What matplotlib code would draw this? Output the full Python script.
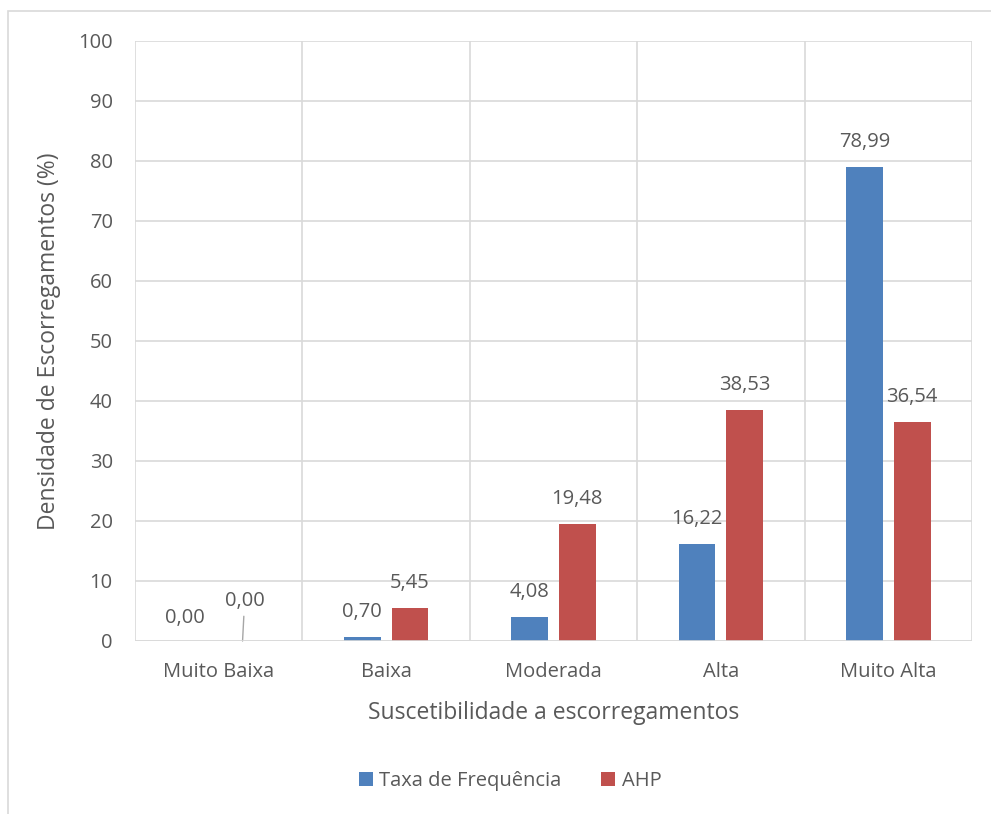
import numpy as np
import matplotlib.pyplot as plt
from matplotlib.patches import Rectangle

categorias = ['Muito Baixa', 'Baixa', 'Moderada', 'Alta', 'Muito Alta']
taxa_freq = [0.00, 0.70, 4.08, 16.22, 78.99]
ahp = [0.00, 5.45, 19.48, 38.53, 36.54]
yticks = [0, 10, 20, 30, 40, 50, 60, 70, 80, 90, 100]

azul = '#4F81BD'
vermelho = '#C0504D'
cinza = '#595959'
grade = '#D9D9D9'
fs = 14.5

plt.rcParams['font.family'] = ['Open Sans', 'DejaVu Sans']

fig = plt.figure(figsize=(9.91, 8.14), dpi=100)
# moldura externa do grafico (corta na direita e embaixo)
fig.patches.append(Rectangle((8 / 991, -0.05), 1.2, 1 - 11 / 814 + 0.05,
                             transform=fig.transFigure, fill=False,
                             edgecolor=grade, lw=1.2))

ax = fig.add_axes([135 / 991, 1 - 641 / 814, (972 - 135) / 991, 600 / 814])

x = np.arange(len(categorias))
w = 0.22
gap = 0.065
b1 = ax.bar(x - (w + gap) / 2, taxa_freq, w, color=azul, label='Taxa de Frequência', zorder=3)
b2 = ax.bar(x + (w + gap) / 2, ahp, w, color=vermelho, label='AHP', zorder=3)

ax.set_xlim(-0.5, len(categorias) - 0.5)
ax.set_ylim(0, 100)
ax.set_yticks(yticks)
ax.set_xticks(x)
ax.set_xticklabels(categorias)
ax.set_xticks(np.arange(len(categorias) + 1) - 0.5, minor=True)
ax.grid(axis='y', color=grade, lw=1.2, zorder=0)
ax.grid(axis='x', which='minor', color=grade, lw=1.2, zorder=0)
ax.tick_params(axis='both', which='both', length=0, labelsize=fs, colors=cinza)
ax.tick_params(axis='y', pad=16)
ax.tick_params(axis='x', pad=15)
for s in ax.spines.values():
    s.set_visible(False)
ax.axhline(0, color=grade, lw=1.2, zorder=4)

ax.set_xlabel('Suscetibilidade a escorregamentos', fontsize=16.5, color=cinza, labelpad=14)
ax.set_ylabel('Densidade de Escorregamentos (%)', fontsize=16.5, color=cinza, labelpad=12)

def fmt(v):
    return f'{v:.2f}'.replace('.', ',')

for i, (r1, r2) in enumerate(zip(b1, b2)):
    if i == 0:
        ax.annotate(fmt(taxa_freq[i]), (r1.get_x() + r1.get_width() / 2, 0),
                    xytext=(-7, 16.5), textcoords='offset points', ha='center', va='center',
                    fontsize=fs, color=cinza)
        ax.annotate(fmt(ahp[i]), (r2.get_x() + r2.get_width() / 2, 0),
                    xytext=(1.5, 29), textcoords='offset points', ha='center', va='center',
                    fontsize=fs, color=cinza,
                    arrowprops=dict(arrowstyle='-', color='#A6A6A6', lw=1,
                                    shrinkA=2, shrinkB=0))
        continue
    for r, v in ((r1, taxa_freq[i]), (r2, ahp[i])):
        ax.annotate(fmt(v), (r.get_x() + r.get_width() / 2, v),
                    xytext=(0, 18), textcoords='offset points', ha='center', va='center',
                    fontsize=fs, color=cinza)

fig.legend(handles=[b1, b2], loc='center', bbox_to_anchor=(510 / 991, 1 - 781 / 814),
           ncol=2, frameon=False, fontsize=fs, labelcolor=cinza,
           handlelength=0.7, handleheight=0.7, handletextpad=0.3, columnspacing=2.0)

fig.savefig('out.png', dpi=100, facecolor='white')
